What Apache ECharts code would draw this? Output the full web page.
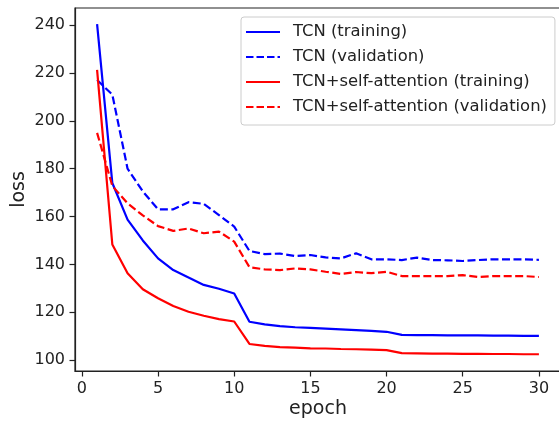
<!DOCTYPE html>
<html>
<head>
<meta charset="utf-8">
<script src="https://cdn.jsdelivr.net/npm/echarts@6/dist/echarts.min.js"></script>
<style>
html,body{margin:0;padding:0;background:#fff;}
#c{width:559px;height:422px;}
</style>
</head>
<body>
<div id="c"></div>
<script>
var epochs = [1,2,3,4,5,6,7,8,9,10,11,12,13,14,15,16,17,18,19,20,21,22,23,24,25,26,27,28,29,30];
var tcnTrain = [240.5,174.0,158.7,150.0,142.5,137.6,134.5,131.4,129.8,127.8,116.0,114.9,114.2,113.7,113.4,113.1,112.8,112.5,112.2,111.8,110.5,110.4,110.4,110.3,110.3,110.3,110.2,110.2,110.1,110.1];
var tcnVal = [217.1,211.0,180.0,170.5,163.0,163.0,166.0,165.3,160.6,155.8,145.6,144.3,144.5,143.5,143.9,142.9,142.5,144.6,142.1,142.1,141.8,142.8,141.8,141.7,141.4,141.8,142.1,142.1,142.1,141.9];
var saTrain = [221.3,148.3,136.3,129.6,125.8,122.6,120.2,118.5,117.1,116.1,106.7,105.9,105.4,105.2,104.9,104.8,104.6,104.5,104.3,104.1,102.9,102.8,102.7,102.7,102.6,102.6,102.5,102.5,102.4,102.4];
var saVal = [195.0,172.8,165.5,160.5,156.0,154.0,155.0,153.0,153.7,149.5,138.8,137.9,137.6,138.3,137.9,136.9,136.0,136.8,136.3,136.9,135.1,135.1,135.1,135.1,135.5,134.7,135.1,135.1,135.1,134.7];
var xTicks = [0,5,10,15,20,25,30];
var yTicks = [100,120,140,160,180,200,220,240];
var names = ['TCN (training)','TCN (validation)','TCN+self-attention (training)','TCN+self-attention (validation)'];

function pairs(vals){ return epochs.map(function(e,i){ return [e, vals[i]]; }); }

var chart = echarts.init(document.getElementById('c'), null, {renderer:'canvas'});
var font = 'DejaVu Sans';
var solidIcon = 'path://M0,0h34v2h-34z';
var dashIcon = 'path://M0,0h7.5v2h-7.5zM10.5,0h7.5v2h-7.5zM21,0h7.5v2h-7.5zM31.5,0h2.5v2h-2.5z';
function mk(name, vals, color, dashed){
  return {
    name: name, type: 'line', data: pairs(vals), symbol: 'none', smooth: false,
    lineStyle: {color: color, width: 2.2, type: dashed ? [8, 3.5] : 'solid'},
    itemStyle: {color: color},
    animation: false
  };
}
chart.setOption({
  animation: false,
  backgroundColor: '#fff',
  grid: {left: 75, top: 8, width: 486, height: 363, containLabel: false, outerBoundsMode: 'none',
         show: true, borderColor: '#222', borderWidth: 1.2, backgroundColor: 'transparent'},
  legend: {
    orient: 'vertical', left: 241, top: 17,
    data: [
      {name: names[0], icon: solidIcon},
      {name: names[1], icon: dashIcon},
      {name: names[2], icon: solidIcon},
      {name: names[3], icon: dashIcon}
    ],
    itemWidth: 34, itemHeight: 2, itemGap: 9,
    padding: [7, 8, 10, 5],
    borderColor: '#cccccc', borderWidth: 1, borderRadius: 3,
    backgroundColor: 'rgba(255,255,255,0.8)',
    textStyle: {fontFamily: font, fontSize: 16.4, color: '#222', padding: [0,0,0,8]}
  },
  xAxis: {
    type: 'value', min: -0.45, max: 31.45,
    name: 'epoch', nameLocation: 'middle', nameGap: 29, nameMoveOverlap: false,
    nameTextStyle: {fontFamily: font, fontSize: 19, color: '#222'},
    axisLine: {show: true, onZero: false, lineStyle: {color: '#222', width: 1.2}},
    axisTick: {show: true, length: 5.5, customValues: xTicks, lineStyle: {color: '#222', width: 1.2}},
    axisLabel: {customValues: xTicks, fontFamily: font, fontSize: 16, color: '#222', margin: 10},
    splitLine: {show: false}
  },
  yAxis: {
    type: 'value', min: 95.4, max: 247.2,
    name: 'loss', nameLocation: 'middle', nameGap: 46, nameMoveOverlap: false,
    nameTextStyle: {fontFamily: font, fontSize: 19, color: '#222'},
    axisLine: {show: true, onZero: false, lineStyle: {color: '#222', width: 1.2}},
    axisTick: {show: true, length: 5.5, customValues: yTicks, lineStyle: {color: '#222', width: 1.2}},
    axisLabel: {customValues: yTicks, fontFamily: font, fontSize: 16, color: '#222', margin: 10},
    splitLine: {show: false}
  },
  series: [
    mk(names[0], tcnTrain, '#0000ff', false),
    mk(names[1], tcnVal, '#0000ff', true),
    mk(names[2], saTrain, '#ff0000', false),
    mk(names[3], saVal, '#ff0000', true)
  ]
});
</script>
</body>
</html>
